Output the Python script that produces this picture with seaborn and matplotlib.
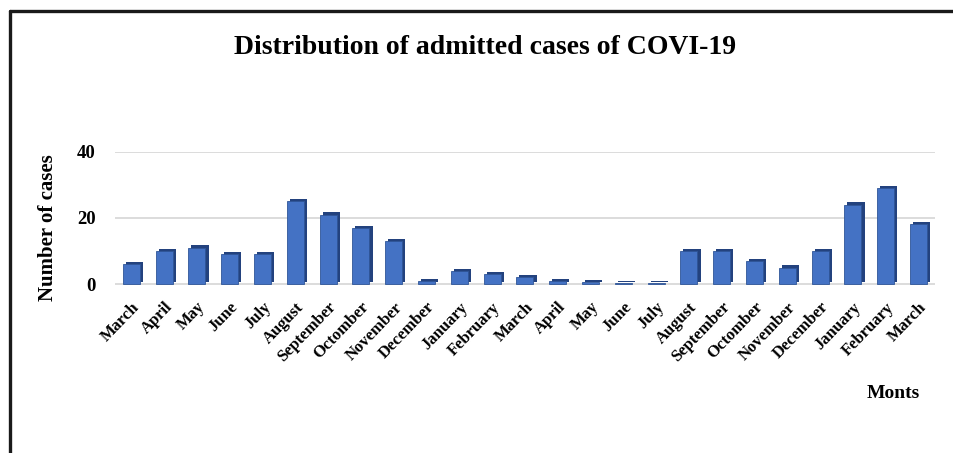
import numpy as np
import pandas as pd
import matplotlib
matplotlib.use("Agg")
import matplotlib.pyplot as plt
import matplotlib.patheffects as pe
from matplotlib.lines import Line2D
import seaborn as sns

# Monthly admitted cases, March through March two years later
months = ["March", "April", "May", "June", "July", "August", "September",
          "Octomber", "November", "December", "January", "February",
          "March", "April", "May", "June", "July", "August", "September",
          "Octomber", "November", "December", "January", "February", "March"]
cases = [6, 10, 11, 9, 9, 25, 21, 17, 13, 1, 4, 3,
         2, 1, 0.5, 0.4, 0.4, 10, 10, 7, 5, 10, 24, 29, 18]
y_ticks = [0, 20, 40]

title = "Distribution of admitted cases of COVI-19"
y_label = "Number of cases"
x_label = "Monts"

sns.set_theme(style="white")
plt.rcParams["font.family"] = ["Liberation Serif", "DejaVu Serif"]
plt.rcParams["font.weight"] = "bold"
plt.rcParams["text.color"] = "black"
plt.rcParams["axes.labelcolor"] = "black"
plt.rcParams["xtick.color"] = "black"
plt.rcParams["ytick.color"] = "black"

df = pd.DataFrame({"idx": np.arange(len(cases)), "cases": cases})

fig = plt.figure(figsize=(9.54, 4.53), dpi=100)
fig.patch.set_facecolor("white")
ax = fig.add_axes([0.1205, 0.3642, 0.8595, 0.3009])

sns.barplot(data=df, x="idx", y="cases", color="#4472C4", width=0.52,
            saturation=1, ax=ax, edgecolor="#2F5597", linewidth=0.6)

# darker side/top faces give the bars a bevelled look
for bar in ax.patches:
    bar.set_path_effects([
        pe.SimplePatchShadow(offset=(2.2, 1.6), shadow_rgbFace="#23427e", alpha=1.0),
        pe.Normal(),
    ])

ax.set_ylim(-1.2, 40)
ax.set_xlim(-0.5, len(cases) - 0.5)
ax.set_yticks(y_ticks)
ax.set_yticklabels([str(t) for t in y_ticks], fontsize=13.5, fontweight="bold")
ax.set_xticks(np.arange(len(months)))
ax.set_xticklabels(months, rotation=46, ha="right", rotation_mode="anchor",
                   fontsize=12, fontweight="bold")
ax.tick_params(axis="x", length=0, pad=8)
ax.tick_params(axis="y", length=0, pad=14)

ax.yaxis.grid(True, color="#d9d9d9", linewidth=1.3)
ax.set_axisbelow(True)
for s in ax.spines.values():
    s.set_visible(False)

ax.set_xlabel("")
ax.set_ylabel(y_label, fontsize=15, fontweight="bold")
ax.yaxis.set_label_coords(-0.07, 0.44)

fig.text(0.508, 0.895, title, ha="center", va="center",
         fontsize=20, fontweight="bold")
fig.text(0.936, 0.132, x_label, ha="center", va="center",
         fontsize=14, fontweight="bold")

# frame lines along the top and left edges
fig.add_artist(Line2D([0.0105, 0.0105], [0.0, 0.976], color="#1a1a1a",
                      linewidth=2.4, transform=fig.transFigure))
fig.add_artist(Line2D([0.0105, 1.0], [0.976, 0.976], color="#1a1a1a",
                      linewidth=2.4, transform=fig.transFigure))

fig.savefig("out.png", dpi=100, facecolor="white")
